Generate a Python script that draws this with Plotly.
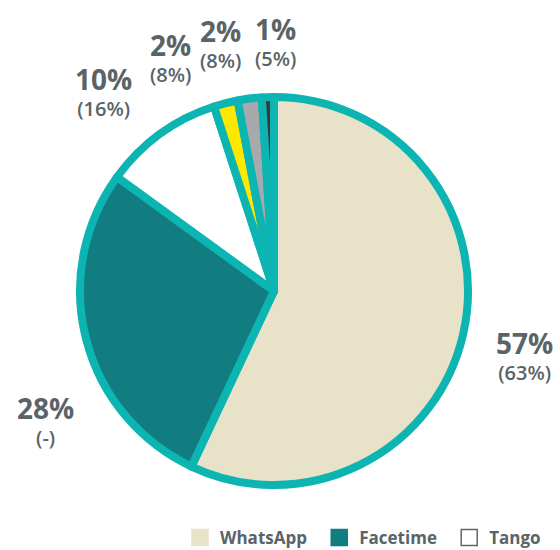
import plotly.graph_objects as go

labels = ["WhatsApp", "Facetime", "Tango", "Other A", "Other B", "Other C"]
shares = [57, 28, 10, 2, 2, 1]
previous = ["63%", "-", "16%", "8%", "8%", "5%"]
colors = ["#E8E2C9", "#127D80", "#FFFFFF", "#FFE800", "#A8A9AD", "#3B3A3D"]
legend_labels = ["WhatsApp", "Facetime", "Tango"]

# label block centres (pixels from top-left of the 560x550 canvas)
label_px = [(524, 355), (45, 420), (103, 91), (170, 57), (220, 43), (275, 41)]

W, H = 560, 550
text_col = "#5A6468"
font_family = "'Open Sans', Lato, sans-serif"
border_col = "#0DB5B2"

fig = go.Figure()
fig.add_trace(go.Pie(
    labels=labels, values=shares, textinfo="none",
    marker=dict(colors=colors, line=dict(color=border_col, width=8)),
    sort=False, direction="clockwise", rotation=0,
    showlegend=False, hoverinfo="label+percent",
    domain=dict(x=[0.1429, 0.8357], y=[0.1182, 0.8236]),
))

for i, (name, col) in enumerate(zip(legend_labels, colors[:3])):
    pad = "<span style='font-size:14px'>\u00a0\u00a0</span>" if i < len(legend_labels) - 1 else ""
    fig.add_trace(go.Scatter(
        x=[None], y=[None], mode="markers", name=f"<b>{name}</b>{pad}",
        marker=dict(symbol="square", size=18, color=col,
                    line=dict(color="#666666" if col == "#FFFFFF" else col, width=1.5)),
    ))

for s, p, (px, py) in zip(shares, previous, label_px):
    fig.add_annotation(
        x=px / W, y=1 - py / H, xref="paper", yref="paper",
        xanchor="center", yanchor="middle", showarrow=False,
        text=f"<span style='font-size:28px'><b>{s}%</b></span><br>"
             f"<span style='font-size:20px;font-weight:600'>({p})</span>",
        font=dict(size=20, color=text_col, family=font_family),
        align="center",
    )

fig.update_layout(
    width=W, height=H,
    margin=dict(l=0, r=0, t=0, b=0, autoexpand=False),
    paper_bgcolor="white", plot_bgcolor="white",
    xaxis=dict(visible=False), yaxis=dict(visible=False),
    font=dict(family=font_family, color=text_col),
    legend=dict(orientation="h", x=0.975, xanchor="right", y=-0.011, yanchor="bottom",
                font=dict(size=17, color=text_col, family=font_family)),
)

fig.write_html("out.html", config={"displayModeBar": False},
               post_script="document.body.style.margin='0';document.body.style.overflow='hidden';")
